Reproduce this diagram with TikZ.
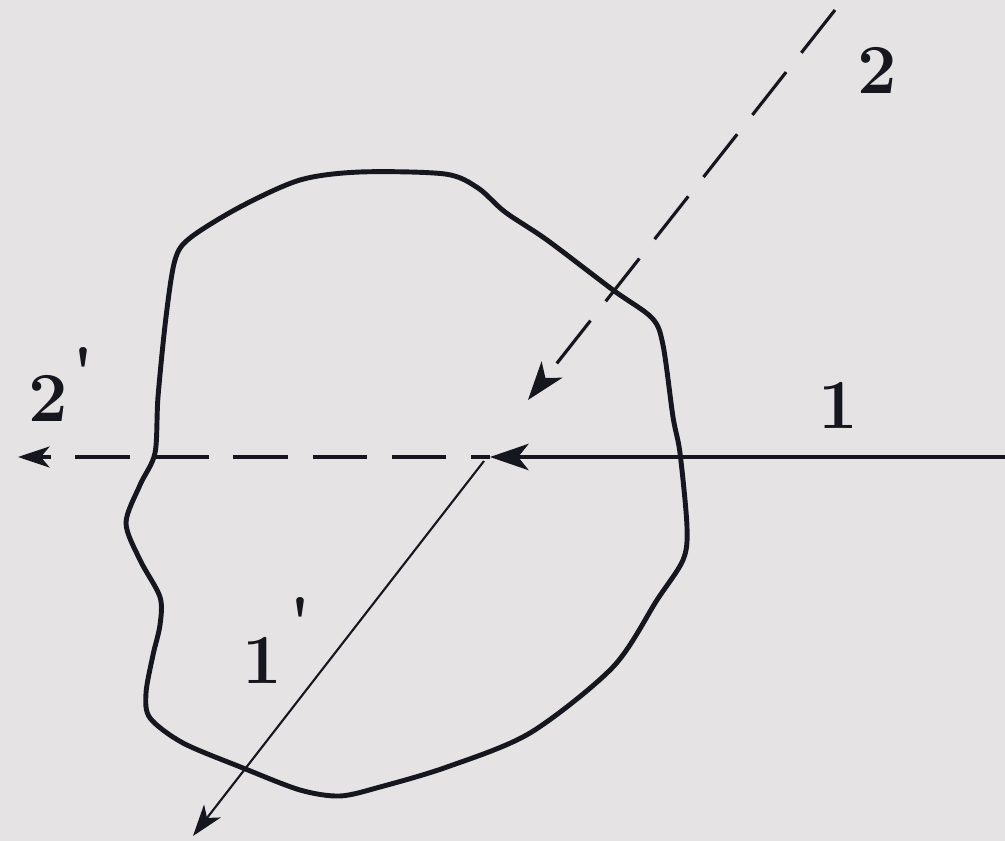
\documentclass[tikz,border=0pt]{standalone}
\usetikzlibrary{arrows.meta}
\definecolor{paper}{RGB}{229,227,227}
\definecolor{ink}{RGB}{22,22,30}
\tikzset{
  ray/.style={draw=ink, line width=2pt},
  thinray/.style={draw=ink, line width=1.2pt},
  dashray/.style={draw=ink, line width=1.8pt, dash pattern=on 31pt off 14pt},
  bigtip/.style={-{Stealth[length=22pt,width=15pt,inset=6pt]}},
  smalltip/.style={-{Stealth[length=18pt,width=12pt,inset=5pt]}},
  lab/.style={text=ink, font=\fontsize{40}{48}\selectfont\bfseries, inner sep=0pt},
  blob/.style={draw=ink, line width=2.8pt, line join=round}
}
\begin{document}
\begin{tikzpicture}[x=0.02cm,y=-0.02cm]
\fill[paper] (0,0) rectangle (1005,841);
\useasboundingbox (0,0) rectangle (1005,841);
% outline of the body
\draw[blob] plot[smooth cycle, tension=0.5] coordinates {
 (360,172) (445,174) (478,188) (505,212) (547,240) (613,290) (652,318)
 (663,345) (673,417) (680,453) (687,527) (683,560) (657,600) (613,667)
 (530,733) (447,767) (380,787) (340,796) (300,790) (243,768) (183,743)
 (150,718) (146,693) (153,655) (160,625) (160,597) (140,560) (126,523)
 (140,485) (155,453) (158,397) (166,317) (175,260) (190,238) (240,207)
 (300,180)};
% points
\coordinate (c) at (490,457);
\coordinate (e1) at (1005,457);
\coordinate (t2p) at (18,457);
\coordinate (s2) at (835,10);
\coordinate (h2) at (528,400);
\coordinate (s1p) at (484,461);
\coordinate (t1p) at (193,836);
% rays
\draw[ray, bigtip] (e1) -- (c);
\draw[dashray, smalltip, dash phase=20pt] (c) -- (t2p);
\draw[dashray, bigtip] (s2) -- (h2);
\draw[thinray, smalltip] (s1p) -- (t1p);
% labels
\node[lab] (l2) at (877,70) {2};
\node[lab] (l1) at (838,405) {1};
\node[lab] (l2p) at (48,398) {2};
\node[lab] (l2pp) at (83,372) {\textquotesingle};
\node[lab] (l1p) at (262,660) {1};
\node[lab] (l1pp) at (300,622) {\textquotesingle};
\end{tikzpicture}
\end{document}
